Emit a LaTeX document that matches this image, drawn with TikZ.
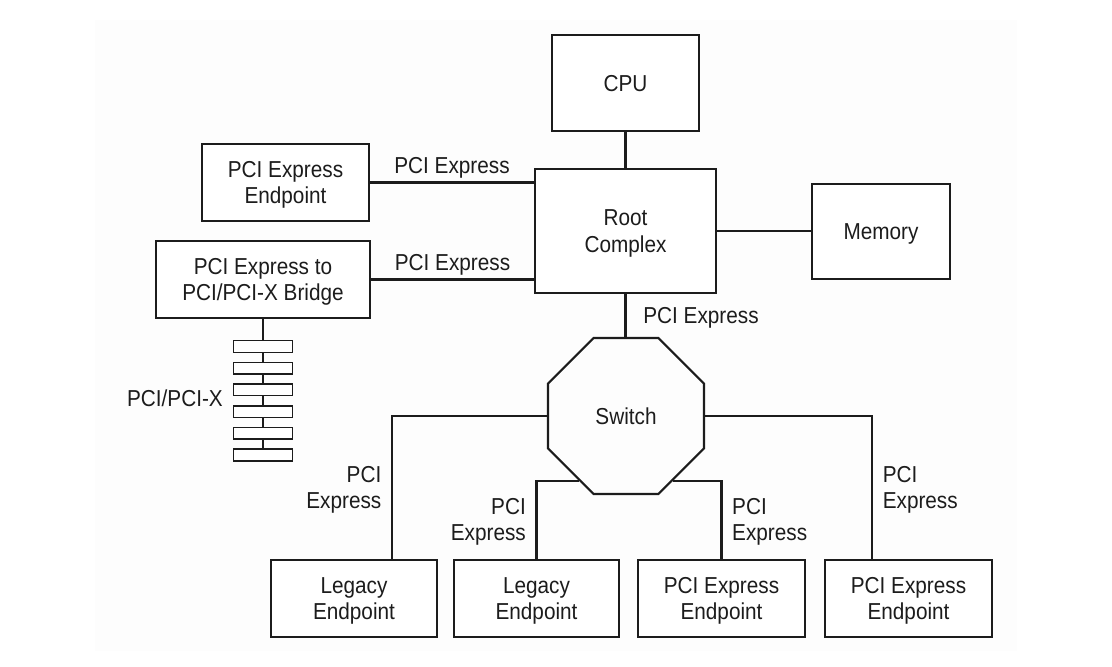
\documentclass[tikz,border=0pt]{standalone}
\usepackage{fontspec}
\setmainfont{Liberation Sans}[FakeStretch=0.9]
\usetikzlibrary{calc,positioning,shapes.geometric}
\definecolor{inkgray}{RGB}{28,28,28}
\definecolor{paperbg}{RGB}{253,253,253}
\def\drawlink{\draw[color=inkgray, line width=1.5pt]}
\def\boxnode{\node[draw=inkgray, line width=1.5pt, fill=white, align=center, text depth=0pt]}
\def\slotnode{\node[draw=inkgray, line width=1.1pt, fill=white, inner sep=0pt, minimum width=1.475cm, minimum height=0.29cm]}

\begin{document}
\begin{tikzpicture}[x=0.025cm,y=-0.025cm,inner sep=4pt,text=inkgray,
  font=\fontsize{16.4}{18.6}\selectfont]
\useasboundingbox (0,0) rectangle (1112,666);
\fill[paperbg] (95,20) rectangle (1017,651);
\boxnode[minimum width=3.675cm, minimum height=2.4cm] (cpu) at (625.5,83) {CPU};
\boxnode[minimum width=4.525cm, minimum height=3.1cm] (root) at (625.5,231) {Root\\Complex};
\boxnode[minimum width=3.45cm, minimum height=2.375cm] (mem) at (881,231.5) {Memory};
\boxnode[minimum width=4.175cm, minimum height=1.925cm] (endpt) at (285.5,182.5) {PCI Express\\Endpoint};
\boxnode[minimum width=5.35cm, minimum height=1.925cm] (bridge) at (263,279.5) {PCI Express to\\PCI/PCI-X Bridge};
\node[regular polygon, regular polygon sides=8, minimum size=4.22cm, inner sep=0pt,
  draw=inkgray, line width=1.5pt, text depth=0pt] (switch) at (626,416) {Switch};
\boxnode[minimum width=4.15cm, minimum height=1.925cm] (legacyA) at (354,598.5) {Legacy\\Endpoint};
\boxnode[minimum width=4.125cm, minimum height=1.925cm] (legacyB) at (536.5,598.5) {Legacy\\Endpoint};
\boxnode[minimum width=4.175cm, minimum height=1.925cm] (endptA) at (721.5,598.5) {PCI Express\\Endpoint};
\boxnode[minimum width=4.175cm, minimum height=1.925cm] (endptB) at (908.5,598.5) {PCI Express\\Endpoint};
\foreach \i in {1,...,6}
  \slotnode (slot\i) at (263,{346.5+21.7*(\i-1)}) {};
\node[left=0.1cm, text depth=0pt] (pcix) at ($(slot3.west)!0.4!(slot4.west)$) {PCI/PCI-X};

\drawlink (cpu) -- (root);
\drawlink (root.east) -- (root.east -| mem.west);
\drawlink (endpt.east) -- node[above, yshift=-1.5pt] {PCI Express} (endpt.east -| root.west);
\drawlink (bridge.east) -- node[above, yshift=-1.5pt] {PCI Express} (bridge.east -| root.west);
\drawlink (root.south) -- node[right=0.28cm, text depth=0pt] {PCI Express} (root.south |- switch.north);
\drawlink[line width=1.1pt] (bridge.south) -- (slot1.north);
\foreach \i/\j in {1/2,2/3,3/4,4/5,5/6}
  \drawlink[line width=1.1pt] (slot\i.south) -- (slot\j.north);
\drawlink (switch.west) -| node[pos=0.75, left=0.1cm, align=right, text depth=0pt] {PCI\\Express} ([xshift=0.95cm]legacyA.north);
\drawlink (switch.234) -| node[pos=0.75, left=0.1cm, align=right, text depth=0pt] {PCI\\Express} (legacyB.north);
\drawlink (switch.-54) -| node[pos=0.75, right=0.1cm, align=left, text depth=0pt] {PCI\\Express} (endptA.north);
\drawlink (switch.east) -| node[pos=0.75, right=0.1cm, align=left, text depth=0pt] {PCI\\Express} ([xshift=-0.91cm]endptB.north);
\end{tikzpicture}
\end{document}
